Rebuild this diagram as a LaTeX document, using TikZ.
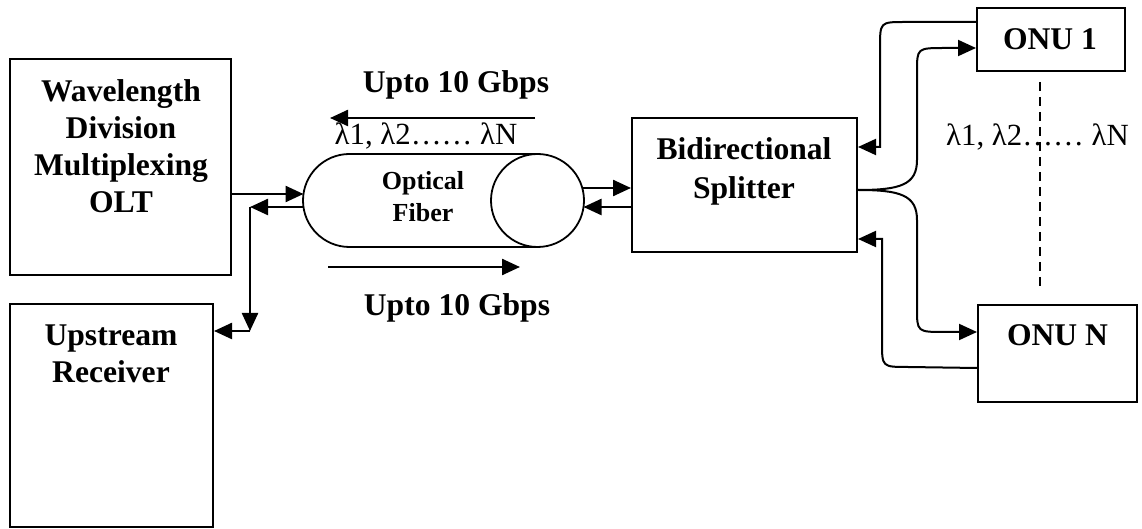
\documentclass[tikz,border=0pt]{standalone}
\usepackage{fontspec}
\setmainfont{Liberation Serif}
\usetikzlibrary{arrows.meta}

\begin{document}
\begin{tikzpicture}[x=0.5pt,y=-0.5pt,
  blk/.style={draw, line width=1pt, inner sep=0pt},
  wire/.style={line width=0.9pt},
  arr/.style={line width=1.2pt, -{Triangle[length=9pt,width=8pt]}},
  big/.style={font=\bfseries\fontsize{15.8}{18.4}\selectfont, align=center},
  lam/.style={font=\fontsize{15.4}{18}\selectfont}]

\useasboundingbox (0,0) rectangle (1142,529);

% boxes
\node[blk, minimum width=110.5pt, minimum height=108pt] (olt) at (120.5,167) {};
\node[blk, minimum width=101.5pt, minimum height=111.5pt] (rx) at (111.5,415.5) {};
\node[blk, minimum width=112.5pt, minimum height=67pt] (split) at (744.5,185) {};
\node[blk, minimum width=74pt, minimum height=31.5pt] (onu1) at (1051,39.5) {};
\node[blk, minimum width=79.5pt, minimum height=48.5pt] (onuN) at (1057.5,353.5) {};

\node[big] (olttxt) at (121,146) {Wavelength\\Division\\Multiplexing\\OLT};
\node[big] (rxtxt) at (111,354) {Upstream\\Receiver};
\node[big, font=\bfseries\fontsize{15.8}{19.5}\selectfont] (splittxt) at (744,171) {Bidirectional\\Splitter};
\node[big] (onu1txt) at (1050,39.5) {ONU 1};
\node[big] (onuNtxt) at (1057.5,335.5) {ONU N};

% fiber
\draw[wire] (537.5,154) -- (349.5,154) arc[start angle=270, end angle=90, radius=46.5] -- (537.5,247);
\draw[wire] (537.5,200.5) circle[radius=46.5];
\node[font=\bfseries\fontsize{13}{16}\selectfont, align=center] (fibtxt) at (423,197) {Optical\\Fiber};

% rates
\node[big] (upds) at (456,84.5) {Upto 10 Gbps};
\node[big] (upus) at (457,307.5) {Upto 10 Gbps};
\node[lam] (lamL) at (426,136) {λ1, λ2…… λN};
\node[lam] (lamR) at (1037.5,137) {λ1, λ2…… λN};

\coordinate (dsR) at (535,118);
\coordinate (dsL) at (330,118);
\draw[arr] (dsR) -- (dsL);
\coordinate (usL) at (328,267);
\coordinate (usR) at (520,267);
\draw[arr] (usL) -- (usR);

% OLT side
\coordinate (fin) at (303.5,194);
\coordinate (fout) at (303.5,207);
\coordinate (tap) at (250,207);
\coordinate (tapdn) at (250,331);
\draw[arr] (olt.east |- fin) -- (fin);
\draw[arr] (fout) -- (tap);
\draw[arr] (tap) -- (tapdn);
\draw[arr] (tapdn) -- (rx.east |- tapdn);

% splitter side
\coordinate (fr1) at (582.5,188);
\coordinate (fr2) at (583.5,207);
\draw[arr] (fr1) -- (split.west |- fr1);
\draw[arr] (split.west |- fr2) -- (fr2);

% ONU links
\draw[arr, line width=1pt] (onu1.west |- 0,22) -- (905,22) .. controls (880,22) .. (880,48) -- (880,147) -- (split.east |- 0,147);
\draw[arr, line width=1pt] (split.east |- 0,190) .. controls (900,190) and (917,185) .. (917,160) -- (917,72) .. controls (917,48) .. (945,48) -- (onu1.west |- 0,48);
\draw[arr, line width=1pt] (split.east |- 0,190) .. controls (900,190) and (917,195) .. (917,220) -- (917,308) .. controls (917,332) .. (945,332) -- (onuN.west |- 0,332);
\draw[arr, line width=1pt] (onuN.west |- 0,368) -- (908,367) .. controls (882,367) .. (882,342) -- (882,239) -- (split.east |- 0,239);

\coordinate (dtop) at (1040,82);
\coordinate (dbot) at (1040,291);
\draw[wire, dash pattern=on 4.5pt off 3pt] (dtop) -- (dbot);

\end{tikzpicture}
\end{document}
